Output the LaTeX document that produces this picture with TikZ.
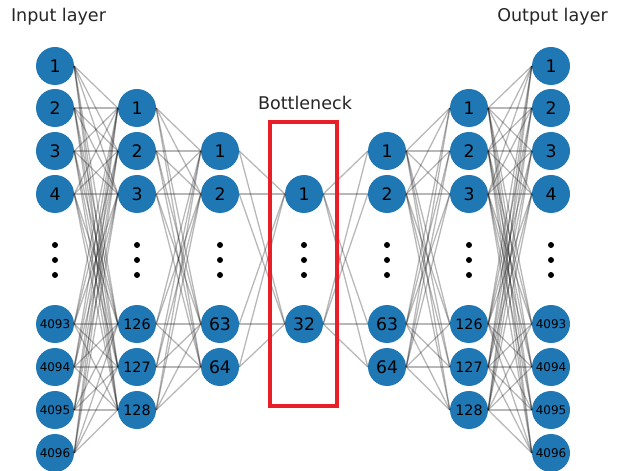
\documentclass[tikz,border=0pt]{standalone}
\usepackage{fontspec}
\setmainfont{DejaVu Sans}
\definecolor{nblue}{HTML}{1F77B4}
\definecolor{bred}{RGB}{234,30,38}
\begin{document}
\begin{tikzpicture}[x=1bp,y=-1bp,
  neuron/.style={circle,fill=nblue,draw=none,minimum size=38bp,inner sep=0pt},
  dA/.style={font=\fontsize{17.3}{17.3}\selectfont},
  dB/.style={font=\fontsize{14.3}{14.3}\selectfont},
  dC/.style={font=\fontsize{12}{12}\selectfont},
  conn/.style={draw=black,draw opacity=0.28,line width=1.3bp},
  vdot/.style={circle,fill=black,minimum size=6bp,inner sep=0pt},
  title/.style={font=\fontsize{17.6}{18}\selectfont,text=black!85},
  bneck/.style={draw=bred,line width=3.8bp}]
\useasboundingbox (0,0) rectangle (622,471);
% column A (input) and G (output)
\foreach \y/\t/\s [count=\i] in {66/1/dA,108/2/dA,151/3/dA,194/4/dA,324/4093/dC,367/4094/dC,410/4095/dC,453/4096/dC}{
  \node[neuron,\s] (a\i) at (55,\y) {\t};
  \node[neuron,\s] (g\i) at (551,\y) {\t};
}
% column B and F
\foreach \y/\t/\s [count=\i] in {108/1/dA,151/2/dA,194/3/dA,324/126/dB,367/127/dB,410/128/dB}{
  \node[neuron,\s] (b\i) at (137,\y) {\t};
  \node[neuron,\s] (f\i) at (469,\y) {\t};
}
% column C and E
\foreach \y/\t [count=\i] in {151/1,194/2,324/63,367/64}{
  \node[neuron,dA] (c\i) at (220,\y) {\t};
  \node[neuron,dA] (e\i) at (387,\y) {\t};
}
% bottleneck column D
\foreach \y/\t [count=\i] in {194/1,324/32}{
  \node[neuron,dA] (d\i) at (304,\y) {\t};
}
% connections
\foreach \i in {1,...,8}{\foreach \j in {1,...,6}{
  \draw[conn] (a\i.east) -- (b\j.west);
  \draw[conn] (f\j.east) -- (g\i.west);
}}
\foreach \i in {1,...,6}{\foreach \j in {1,...,4}{
  \draw[conn] (b\i.east) -- (c\j.west);
  \draw[conn] (e\j.east) -- (f\i.west);
}}
\foreach \i in {1,...,4}{\foreach \j in {1,2}{
  \draw[conn] (c\i.east) -- (d\j.west);
  \draw[conn] (d\j.east) -- (e\i.west);
}}
% vertical dots
\foreach \x [count=\k] in {55,137,220,304,387,469,551}{
  \foreach \y [count=\m] in {245,260,275}{
    \node[vdot] (v\k-\m) at (\x,\y) {};
  }
}
% bottleneck box
\node[draw=none,inner sep=0pt] (bl) at (270,122) {};
\node[draw=none,inner sep=0pt] (tr) at (337,406) {};
\draw[bneck] (bl.center) rectangle (tr.center);
% titles
\node[title] (tin) at (58.5,17) {Input layer};
\node[title] (tout) at (552.5,17) {Output layer};
\node[title] (tbn) at (305,103) {Bottleneck};
\end{tikzpicture}
\end{document}
